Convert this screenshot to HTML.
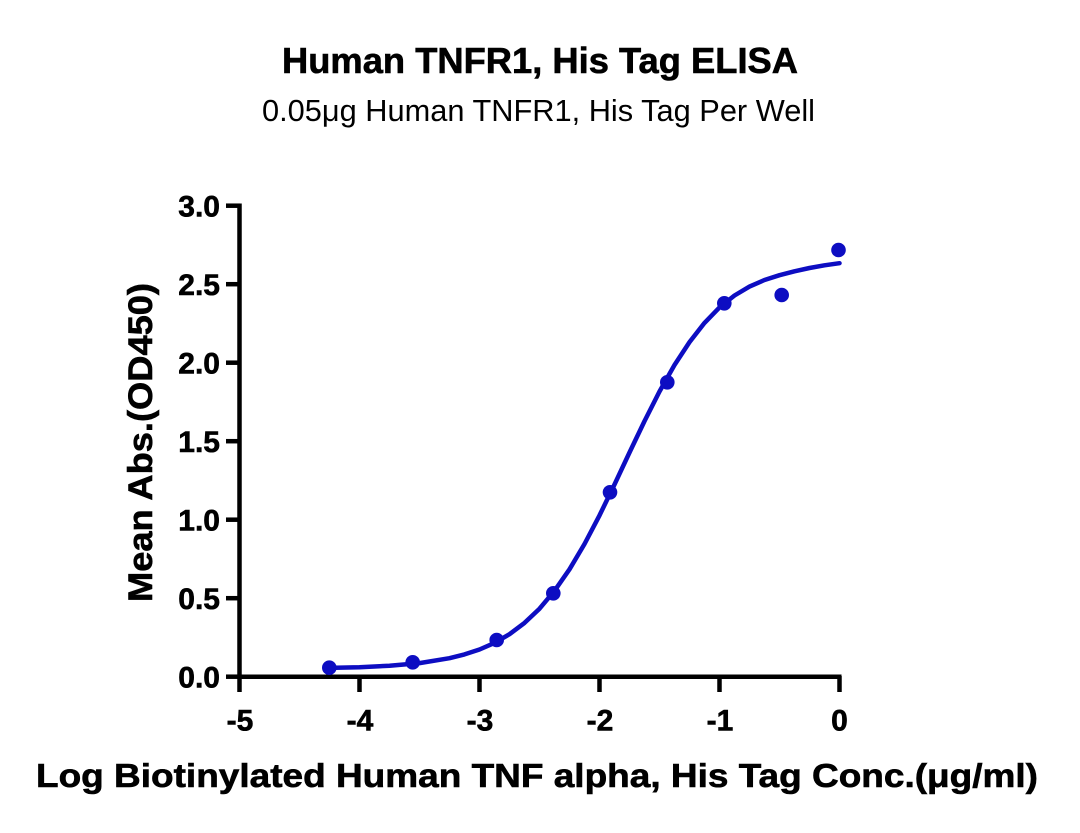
<!DOCTYPE html>
<html>
<head>
<meta charset="utf-8">
<style>
  html, body { margin: 0; padding: 0; background: #ffffff; }
  body { width: 1080px; height: 833px; overflow: hidden; }
  svg { display: block; }
  text { font-family: "Liberation Sans", "DejaVu Sans", sans-serif; fill: #000; }
  .hb { stroke: #000; stroke-width: 0.6; }
</style>
</head>
<body>
<svg width="1080" height="833" viewBox="0 0 1080 833" xmlns="http://www.w3.org/2000/svg">
  <rect x="0" y="0" width="1080" height="833" fill="#ffffff"/>

  <!-- Titles -->
  <text class="hb" x="282" y="73" font-size="36" font-weight="bold" textLength="516" lengthAdjust="spacingAndGlyphs">Human TNFR1, His Tag ELISA</text>
  <text x="262" y="121" font-size="31" textLength="553" lengthAdjust="spacingAndGlyphs">0.05μg Human TNFR1, His Tag Per Well</text>

  <!-- Axes -->
  <g stroke="#000" stroke-width="4.5" fill="none" stroke-linecap="butt">
    <line x1="239.5" y1="203.5" x2="239.5" y2="679"/>
    <line x1="237.3" y1="676.7" x2="841.5" y2="676.7"/>
    <!-- y ticks -->
    <line x1="226" y1="205.7" x2="240" y2="205.7"/>
    <line x1="226" y1="284.2" x2="240" y2="284.2"/>
    <line x1="226" y1="362.7" x2="240" y2="362.7"/>
    <line x1="226" y1="441.2" x2="240" y2="441.2"/>
    <line x1="226" y1="519.7" x2="240" y2="519.7"/>
    <line x1="226" y1="598.2" x2="240" y2="598.2"/>
    <line x1="226" y1="676.7" x2="240" y2="676.7"/>
    <!-- x ticks -->
    <line x1="239.5" y1="676" x2="239.5" y2="692"/>
    <line x1="359.5" y1="676" x2="359.5" y2="692"/>
    <line x1="479.5" y1="676" x2="479.5" y2="692"/>
    <line x1="599.5" y1="676" x2="599.5" y2="692"/>
    <line x1="719.5" y1="676" x2="719.5" y2="692"/>
    <line x1="839.5" y1="676" x2="839.5" y2="692"/>
  </g>

  <!-- Y tick labels -->
  <g class="hb" font-size="30" font-weight="bold" text-anchor="end">
    <text x="220" y="216.7">3.0</text>
    <text x="220" y="295.2">2.5</text>
    <text x="220" y="373.7">2.0</text>
    <text x="220" y="452.2">1.5</text>
    <text x="220" y="530.7">1.0</text>
    <text x="220" y="609.2">0.5</text>
    <text x="220" y="687.7">0.0</text>
  </g>

  <!-- X tick labels -->
  <g class="hb" font-size="30" font-weight="bold" text-anchor="middle">
    <text x="240" y="730.5">-5</text>
    <text x="360" y="730.5">-4</text>
    <text x="480" y="730.5">-3</text>
    <text x="600" y="730.5">-2</text>
    <text x="720" y="730.5">-1</text>
    <text x="839.5" y="730.5">0</text>
  </g>

  <!-- Axis titles -->
  <text class="hb" x="36" y="787" font-size="33" font-weight="bold" textLength="1002" lengthAdjust="spacingAndGlyphs">Log Biotinylated Human TNF alpha, His Tag Conc.(μg/ml)</text>
  <text class="hb" transform="translate(152,442.5) rotate(-90)" x="0" y="0" font-size="34" font-weight="bold" text-anchor="middle" textLength="319" lengthAdjust="spacingAndGlyphs">Mean Abs.(OD450)</text>

  <!-- Fitted curve -->
  <polyline fill="none" stroke="#0d0dc2" stroke-width="4.5" stroke-linejoin="round" stroke-linecap="round"
    points="329.5,667.9 359.5,667.2 389.5,665.7 419.5,663.1 449.5,658.2 464.5,654.4 479.5,649.5 494.5,642.9 509.5,634.2 524.5,622.9 539.5,608.7 554.5,590.8 569.5,569.3 584.5,544.0 599.5,515.4 614.5,484.5 629.5,452.5 644.5,421.1 659.5,391.5 674.5,365.0 689.5,342.1 704.5,322.9 719.5,307.4 734.5,295.5 749.5,286.6 764.5,280.0 779.5,275.2 794.5,271.3 809.5,268.0 824.5,265.3 839.5,263.2"/>

  <!-- Data points -->
  <g fill="#0d0dc2">
    <circle cx="838.5" cy="250" r="7.3"/>
    <circle cx="781.7" cy="295" r="7.3"/>
    <circle cx="724.3" cy="303.3" r="7.3"/>
    <circle cx="667.3" cy="382.3" r="7.3"/>
    <circle cx="610" cy="492.3" r="7.3"/>
    <circle cx="553.3" cy="593.3" r="7.3"/>
    <circle cx="496.7" cy="640" r="7.3"/>
    <circle cx="412.7" cy="662.3" r="7.3"/>
    <circle cx="329.3" cy="667.7" r="7.3"/>
  </g>
</svg>
</body>
</html>
